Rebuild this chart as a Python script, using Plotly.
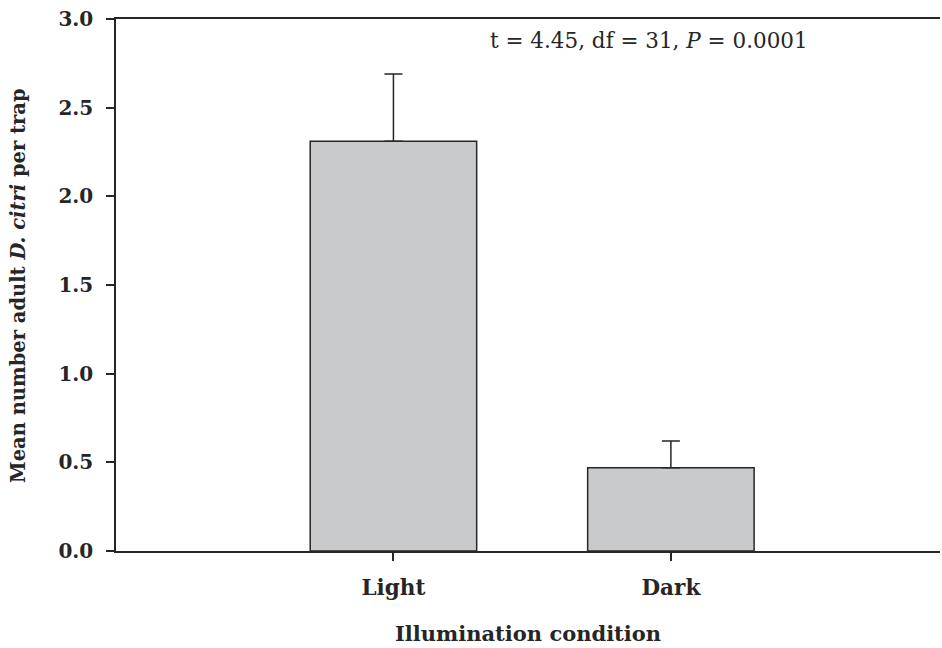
import plotly.graph_objects as go

# Data
conditions = ["Light", "Dark"]
mean_adults = [2.31, 0.47]
se_adults = [0.38, 0.15]

ink = "#262626"
serif = "DejaVu Serif"

fig = go.Figure()
fig.add_trace(go.Bar(
    x=conditions,
    y=mean_adults,
    width=0.6,
    marker=dict(color="#c9cacc", line=dict(color=ink, width=1.5)),
    error_y=dict(type="data", array=se_adults, symmetric=False,
                 arrayminus=[0, 0], color=ink, thickness=1.5, width=9),
    showlegend=False,
))

fig.update_layout(
    width=942, height=648,
    margin=dict(l=116, r=2, t=19, b=97),
    plot_bgcolor="white", paper_bgcolor="white",
    font=dict(family=serif, size=20, color=ink),
    bargap=0.4,
)

fig.update_xaxes(
    range=[-1.0, 1.97],
    showline=True, linecolor=ink, linewidth=1.5, mirror=True,
    ticks="outside", ticklen=8, tickwidth=1.5, tickcolor=ink,
    tickfont=dict(family=serif, size=21.5, weight="bold"),
    ticklabelstandoff=8,
    showgrid=False, zeroline=False,
)
fig.update_yaxes(
    range=[0, 3.0], dtick=0.5, tickformat=".1f",
    showline=True, linecolor=ink, linewidth=1.5, mirror=False,
    ticks="outside", ticklen=8, tickwidth=1.5, tickcolor=ink,
    tickfont=dict(family=serif, size=20, weight="bold"),
    ticklabelstandoff=9,
    showgrid=False, zeroline=False,
)

# axis titles
fig.add_annotation(
    text="Mean number adult <i>D. citri</i> per trap",
    xref="paper", yref="paper", x=-0.119, y=0.5,
    textangle=-90, showarrow=False, xanchor="center", yanchor="middle",
    font=dict(family=serif, size=19.5, weight="bold"),
)
fig.add_annotation(
    text="Illumination condition",
    xref="paper", yref="paper", x=0.5, y=-0.156,
    showarrow=False, xanchor="center", yanchor="middle",
    font=dict(family=serif, size=21, weight="bold"),
)

# statistics
fig.add_annotation(
    text="t = 4.45, df = 31, <i>P</i> = 0.0001",
    xref="paper", yref="paper", x=0.647, y=0.959,
    showarrow=False, xanchor="center", yanchor="middle",
    font=dict(family=serif, size=21.5),
)

fig.write_html("out.html", config={"displayModeBar": False},
               post_script="document.body.style.margin='0';")
